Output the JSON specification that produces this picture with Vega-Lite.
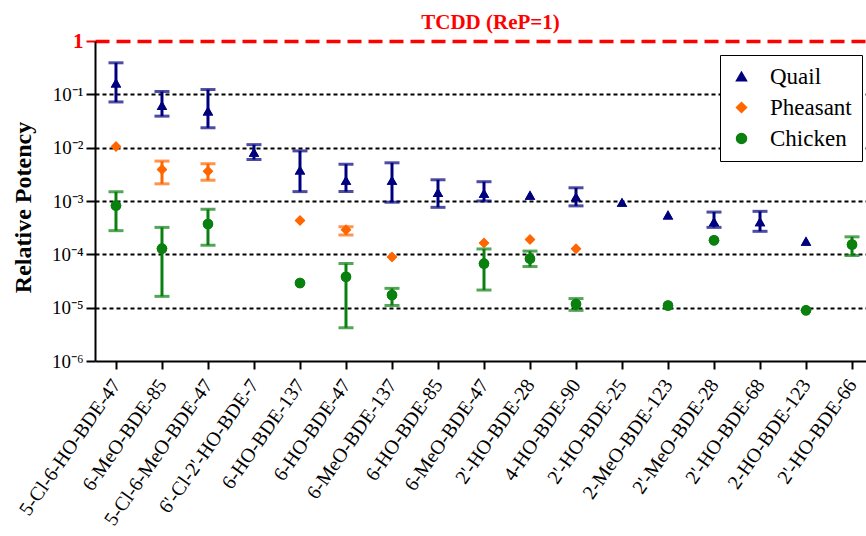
{
  "$schema": "https://vega.github.io/schema/vega-lite/v6.json",
  "width": 771,
  "height": 320,
  "autosize": {"type": "none"},
  "padding": {"left": 95, "top": 41, "right": 0, "bottom": 175},
  "background": "white",
  "title": {"text": "TCDD (ReP=1)", "color": "#ff0000", "font": "Liberation Serif", "fontSize": 21, "fontWeight": "bold", "anchor": "middle", "frame": "group", "offset": -3, "dx": 10},
  "config": {"view": {"stroke": null}},
  "data": {"values": [
    {"cat": "5-Cl-6-HO-BDE-47", "species": "Quail", "v": 0.164, "lo": 0.072, "hi": 0.39},
    {"cat": "6-MeO-BDE-85", "species": "Quail", "v": 0.062, "lo": 0.039, "hi": 0.113},
    {"cat": "5-Cl-6-MeO-BDE-47", "species": "Quail", "v": 0.049, "lo": 0.0236, "hi": 0.123},
    {"cat": "6'-Cl-2'-HO-BDE-7", "species": "Quail", "v": 0.0082, "lo": 0.006, "hi": 0.0114},
    {"cat": "6-HO-BDE-137", "species": "Quail", "v": 0.0038, "lo": 0.0015, "hi": 0.0087},
    {"cat": "6-HO-BDE-47", "species": "Quail", "v": 0.00245, "lo": 0.0015, "hi": 0.0049},
    {"cat": "6-MeO-BDE-137", "species": "Quail", "v": 0.00245, "lo": 0.00095, "hi": 0.0052},
    {"cat": "6-HO-BDE-85", "species": "Quail", "v": 0.00145, "lo": 0.00076, "hi": 0.0025},
    {"cat": "6-MeO-BDE-47", "species": "Quail", "v": 0.0014, "lo": 0.001, "hi": 0.0023},
    {"cat": "2'-HO-BDE-28", "species": "Quail", "v": 0.00129, "lo": null, "hi": null},
    {"cat": "4-HO-BDE-90", "species": "Quail", "v": 0.0012, "lo": 0.00081, "hi": 0.00177},
    {"cat": "2'-HO-BDE-25", "species": "Quail", "v": 0.00095, "lo": null, "hi": null},
    {"cat": "2-MeO-BDE-123", "species": "Quail", "v": 0.00055, "lo": null, "hi": null},
    {"cat": "2'-MeO-BDE-28", "species": "Quail", "v": 0.00041, "lo": 0.00032, "hi": 0.00062},
    {"cat": "2'-HO-BDE-68", "species": "Quail", "v": 0.00041, "lo": 0.00027, "hi": 0.00064},
    {"cat": "2-HO-BDE-123", "species": "Quail", "v": 0.000177, "lo": null, "hi": null},
    {"cat": "5-Cl-6-HO-BDE-47", "species": "Pheasant", "v": 0.0105, "lo": null, "hi": null},
    {"cat": "6-MeO-BDE-85", "species": "Pheasant", "v": 0.0039, "lo": 0.0021, "hi": 0.0056},
    {"cat": "5-Cl-6-MeO-BDE-47", "species": "Pheasant", "v": 0.0036, "lo": 0.00245, "hi": 0.005},
    {"cat": "6-HO-BDE-137", "species": "Pheasant", "v": 0.00043, "lo": null, "hi": null},
    {"cat": "6-HO-BDE-47", "species": "Pheasant", "v": 0.00029, "lo": 0.00023, "hi": 0.00033},
    {"cat": "6-MeO-BDE-137", "species": "Pheasant", "v": 0.000089, "lo": null, "hi": null},
    {"cat": "6-MeO-BDE-47", "species": "Pheasant", "v": 0.000164, "lo": null, "hi": null},
    {"cat": "2'-HO-BDE-28", "species": "Pheasant", "v": 0.00019, "lo": null, "hi": null},
    {"cat": "4-HO-BDE-90", "species": "Pheasant", "v": 0.000127, "lo": null, "hi": null},
    {"cat": "5-Cl-6-HO-BDE-47", "species": "Chicken", "v": 0.00082, "lo": 0.000278, "hi": 0.00149},
    {"cat": "6-MeO-BDE-85", "species": "Chicken", "v": 0.000128, "lo": 0.0000163, "hi": 0.00032},
    {"cat": "5-Cl-6-MeO-BDE-47", "species": "Chicken", "v": 0.00037, "lo": 0.000148, "hi": 0.0007},
    {"cat": "6-HO-BDE-137", "species": "Chicken", "v": 0.000029, "lo": null, "hi": null},
    {"cat": "6-HO-BDE-47", "species": "Chicken", "v": 0.000038, "lo": 0.0000042, "hi": 0.000067},
    {"cat": "6-MeO-BDE-137", "species": "Chicken", "v": 0.0000173, "lo": 0.000011, "hi": 0.000023},
    {"cat": "6-MeO-BDE-47", "species": "Chicken", "v": 0.000067, "lo": 0.0000214, "hi": 0.000126},
    {"cat": "2'-HO-BDE-28", "species": "Chicken", "v": 0.000083, "lo": 0.000059, "hi": 0.000115},
    {"cat": "4-HO-BDE-90", "species": "Chicken", "v": 0.0000117, "lo": 0.0000089, "hi": 0.0000148},
    {"cat": "2-MeO-BDE-123", "species": "Chicken", "v": 0.000011, "lo": null, "hi": null},
    {"cat": "2'-MeO-BDE-28", "species": "Chicken", "v": 0.000184, "lo": null, "hi": null},
    {"cat": "2-HO-BDE-123", "species": "Chicken", "v": 0.0000089, "lo": null, "hi": null},
    {"cat": "2'-HO-BDE-66", "species": "Chicken", "v": 0.000153, "lo": 0.000095, "hi": 0.000213}
  ]},
  "encoding": {
    "x": {
      "field": "cat", "type": "nominal",
      "scale": {"type": "point", "padding": 0.38, "align": 0.6,
        "domain": ["5-Cl-6-HO-BDE-47", "6-MeO-BDE-85", "5-Cl-6-MeO-BDE-47", "6'-Cl-2'-HO-BDE-7", "6-HO-BDE-137", "6-HO-BDE-47", "6-MeO-BDE-137", "6-HO-BDE-85", "6-MeO-BDE-47", "2'-HO-BDE-28", "4-HO-BDE-90", "2'-HO-BDE-25", "2-MeO-BDE-123", "2'-MeO-BDE-28", "2'-HO-BDE-68", "2-HO-BDE-123", "2'-HO-BDE-66"]},
      "axis": {"title": null, "labelAngle": -55, "labelFont": "Liberation Serif", "labelFontSize": 20, "labelColor": "black", "tickSize": 8, "tickWidth": 2, "tickColor": "black", "domainColor": "black", "domainWidth": 2, "labelPadding": 12, "labelLimit": 300, "grid": false}
    }
  },
  "layer": [
    {
      "mark": {"type": "point", "filled": true, "opacity": 1, "size": 110},
      "encoding": {
        "y": {"field": "v", "type": "quantitative", "title": "Relative Potency",
          "scale": {"type": "log", "domain": [0.000001, 1], "nice": false},
          "axis": {
            "values": [0.000001, 0.00001, 0.0001, 0.001, 0.01, 0.1, 1],
            "labelExpr": "datum.value >= 0.999 ? '1' : '10' + ['⁰','⁻¹','⁻²','⁻³','⁻⁴','⁻⁵','⁻⁶'][round(-log(datum.value)/LN10)]",
            "title": "Relative Potency",
            "titleFont": "Liberation Serif", "titleFontSize": 24, "titleFontWeight": "bold", "titleColor": "black",
            "titleX": -60, "titleY": 166, "titleAnchor": "middle",
            "labelFont": "Liberation Serif",
            "labelFontSize": {"condition": {"test": "datum.value >= 0.999", "value": 21}, "value": 19},
            "labelColor": {"condition": {"test": "datum.value >= 0.999", "value": "#ff0000"}, "value": "black"},
            "labelFontWeight": {"condition": {"test": "datum.value >= 0.999", "value": "bold"}, "value": "normal"},
            "labelPadding": 3,
            "tickSize": 9, "tickWidth": 2,
            "tickColor": {"condition": {"test": "datum.value >= 0.999", "value": "#ff0000"}, "value": "black"},
            "domainColor": "black", "domainWidth": 2,
            "grid": true,
            "gridColor": {"condition": {"test": "datum.value >= 0.999", "value": "#ff0000"}, "value": "black"},
            "gridDash": {"condition": {"test": "datum.value >= 0.999", "value": [14, 7]}, "value": [4, 3]},
            "gridWidth": {"condition": {"test": "datum.value >= 0.999", "value": 3.5}, "value": 2},
            "gridOpacity": {"condition": {"test": "datum.value < 0.000002", "value": 0}, "value": 1}
          }
        },
        "color": {"field": "species", "type": "nominal",
          "scale": {"domain": ["Quail", "Pheasant", "Chicken"], "range": ["#00007f", "#ff6600", "#0a800f"]},
          "legend": {"orient": "none", "legendX": 625, "legendY": 14, "title": null, "strokeColor": "black", "fillColor": "white", "padding": 10, "labelFont": "Liberation Serif", "labelFontSize": 23, "labelColor": "black", "symbolSize": 100, "rowPadding": 7, "labelOffset": 17, "labelExpr": "datum.label + '\u00a0\u00a0\u00a0\u00a0\u00a0\u00a0\u00a0\u00a0'"}},
        "shape": {"field": "species", "type": "nominal", "scale": {"domain": ["Quail", "Pheasant", "Chicken"], "range": ["triangle-up", "diamond", "circle"]},
          "legend": {"orient": "none", "legendX": 625, "legendY": 14, "title": null, "strokeColor": "black", "fillColor": "white", "padding": 10, "labelFont": "Liberation Serif", "labelFontSize": 23, "labelColor": "black", "symbolSize": 100, "rowPadding": 7, "labelOffset": 17, "labelExpr": "datum.label + '\u00a0\u00a0\u00a0\u00a0\u00a0\u00a0\u00a0\u00a0'"}}
      }
    },
    {
      "transform": [{"filter": "datum.lo != null"}],
      "mark": {"type": "rule", "strokeWidth": 3},
      "encoding": {
        "y": {"field": "lo", "type": "quantitative", "title": "Relative Potency"},
        "y2": {"field": "hi"},
        "stroke": {"field": "species", "type": "nominal", "legend": null, "scale": {"domain": ["Quail", "Pheasant", "Chicken"], "range": ["#00007f", "#ff6600", "#0a800f"]}}
      }
    },
    {
      "transform": [{"filter": "datum.lo != null"}],
      "mark": {"type": "tick", "thickness": 3, "size": 15},
      "encoding": {
        "y": {"field": "lo", "type": "quantitative", "title": "Relative Potency"},
        "fill": {"field": "species", "type": "nominal", "legend": null, "scale": {"domain": ["Quail", "Pheasant", "Chicken"], "range": ["#00007f", "#ff6600", "#0a800f"]}}
      }
    },
    {
      "transform": [{"filter": "datum.hi != null"}],
      "mark": {"type": "tick", "thickness": 3, "size": 15},
      "encoding": {
        "y": {"field": "hi", "type": "quantitative", "title": "Relative Potency"},
        "fill": {"field": "species", "type": "nominal", "legend": null}
      }
    },
    {
      "mark": {"type": "point", "filled": true, "opacity": 1, "size": 110},
      "encoding": {
        "y": {"field": "v", "type": "quantitative", "title": "Relative Potency"},
        "color": {"field": "species", "type": "nominal"},
        "shape": {"field": "species", "type": "nominal"}
      }
    }
  ]
}
